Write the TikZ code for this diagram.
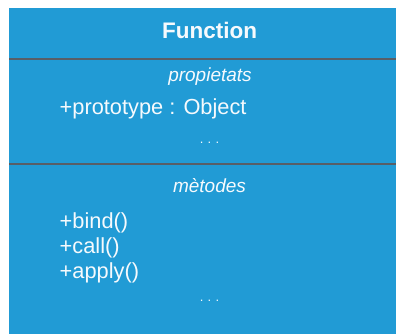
\documentclass[tikz,border=0pt]{standalone}
\usepackage{fontspec}
\setmainfont{Liberation Sans}
\definecolor{umlblue}{RGB}{33,155,213}
\definecolor{umlrule}{RGB}{88,94,102}
\definecolor{umltext}{RGB}{246,250,253}
\begin{document}
\begin{tikzpicture}[x=1pt,y=-1pt,
  txt/.style={inner sep=0pt,text=umltext,anchor=base},
  member/.style={txt,anchor=base west,font=\fontsize{21.8}{26}\selectfont},
  caption/.style={txt,font=\fontsize{19}{23}\selectfont\itshape},
  ellip/.style={txt,font=\fontsize{13}{15}\selectfont},
  rule/.style={draw=umlrule,line width=2pt}]
\useasboundingbox (0,0) rectangle (396,334);
% class box
\fill[umlblue] (9,8) rectangle (396,334);
% compartment separators
\coordinate (r1a) at (9,59);  \coordinate (r1b) at (396,59);
\coordinate (r2a) at (9,164); \coordinate (r2b) at (396,164);
\draw[rule] (r1a) -- (r1b);
\draw[rule] (r2a) -- (r2b);
% title
\node[txt,font=\fontsize{22.5}{26}\selectfont\bfseries] (title) at (209.5,39) {Function};
% attributes
\node[caption] (props) at (210,82) {propietats};
\node[member] (proto) at (59.5,115) {+prototype : Object};
\node[ellip] (dots1) at (209.5,143.5) {.\,\,.\,\,.};
% operations
\node[caption] (meths) at (209.5,192.5) {mètodes};
\node[member] (bind) at (59.5,228) {+bind()};
\node[member] (call) at (59.5,253) {+call()};
\node[member] (apply) at (59.5,278) {+apply()};
\node[ellip] (dots2) at (209.5,301.5) {.\,\,.\,\,.};
\end{tikzpicture}
\end{document}
